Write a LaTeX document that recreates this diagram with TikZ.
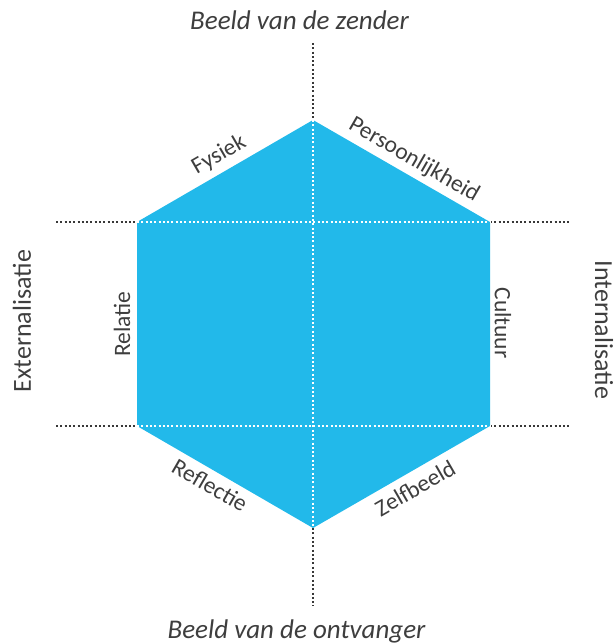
\documentclass[tikz,border=0pt]{standalone}
\usepackage{fontspec}
\setmainfont{Carlito}
\definecolor{hexblue}{RGB}{34,185,234}
\definecolor{txtgray}{RGB}{62,62,62}
\begin{document}
\begin{tikzpicture}[x=1pt,y=-1pt,
  axisdots/.style={line width=2.3pt,dash pattern=on 2pt off 2.3pt,color=txtgray!90!black},
  innerdots/.style={line width=2.3pt,dash pattern=on 2pt off 2.3pt,color=white},
  lbl/.style={text=txtgray,font=\fontsize{23.5}{26}\selectfont,inner sep=0pt},
  ttl/.style={text=txtgray,font=\fontsize{27}{30}\selectfont\itshape,inner sep=0pt},
  side/.style={text=txtgray,font=\fontsize{26}{29}\selectfont,inner sep=0pt}]
\useasboundingbox (0,0) rectangle (615,644);
% hexagon vertices
\coordinate (T) at (313,120);
\coordinate (UR) at (490,222);
\coordinate (LR) at (490,426);
\coordinate (B) at (313,528);
\coordinate (LL) at (137,426);
\coordinate (UL) at (137,222);
% axis ends
\coordinate (vtop) at (313,43);
\coordinate (vbot) at (313,606);
\coordinate (hl1) at (56,222);
\coordinate (hr1) at (571,222);
\coordinate (hl2) at (56,426);
\coordinate (hr2) at (571,426);
\fill[hexblue] (T) -- (UR) -- (LR) -- (B) -- (LL) -- (UL) -- cycle;
\draw[axisdots] (vtop) -- (T);
\draw[axisdots] (B) -- (vbot);
\draw[axisdots] (hl1) -- (UL);
\draw[axisdots] (UR) -- (hr1);
\draw[axisdots] (hl2) -- (LL);
\draw[axisdots] (LR) -- (hr2);
\draw[innerdots] (T) -- (B);
\draw[innerdots] (UL) -- (UR);
\draw[innerdots] (LL) -- (LR);
% titles
\node[ttl,anchor=base] (zender) at (299.5,30) {Beeld van de zender};
\node[ttl,anchor=base] (ontv) at (296.5,638) {Beeld van de ontvanger};
\node[side,rotate=90] (ext) at (22,321) {Externalisatie};
\node[side,rotate=-90] (int) at (604,330) {Internalisatie};
% edge labels
\node[lbl,rotate=30] (fys) at (219,155) {Fysiek};
\node[lbl,rotate=-30] (pers) at (414,160) {Persoonlijkheid};
\node[lbl,rotate=90] (rel) at (122,324) {Relatie};
\node[lbl,rotate=-90] (cult) at (503,323) {Cultuur};
\node[lbl,rotate=-30] (refl) at (210,485) {Reflectie};
\node[lbl,rotate=30] (zelf) at (415,488) {Zelfbeeld};
\end{tikzpicture}
\end{document}
